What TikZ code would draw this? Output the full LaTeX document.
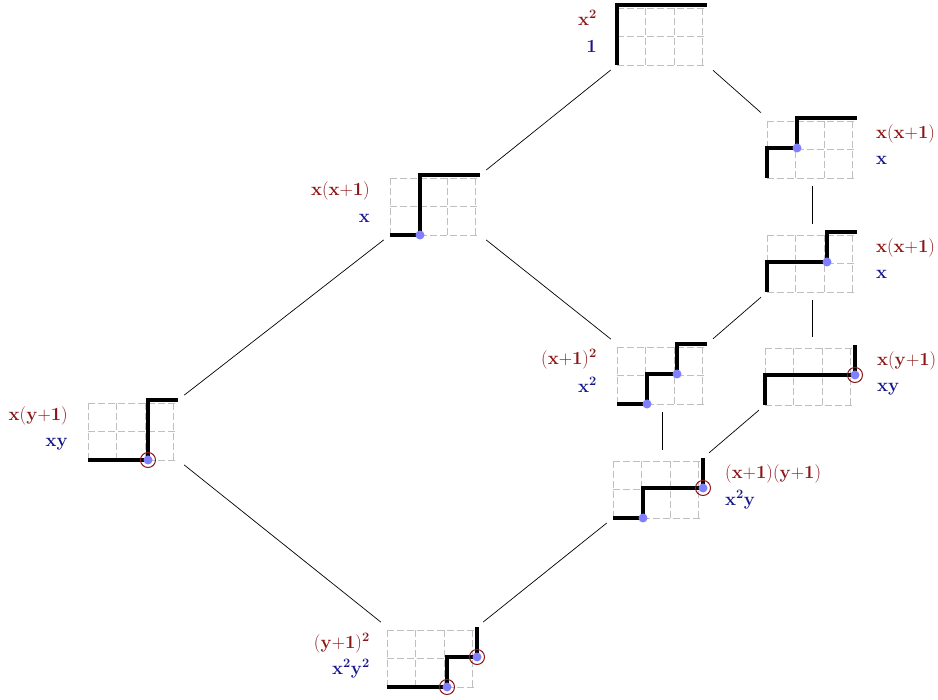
\documentclass[tikz,border=0pt]{standalone}
\usepackage{amsmath}
\definecolor{dred}{RGB}{140,22,22}
\definecolor{dblue}{RGB}{22,22,140}
\definecolor{dotblue}{RGB}{128,128,255}
\tikzset{
  gridbox/.style={rectangle, minimum width=90pt, minimum height=60pt, inner sep=0pt, outer sep=0pt},
  cellgrid/.style={black!25, line width=0.8pt, dash pattern=on 7pt off 3pt},
  lpath/.style={line width=4pt, line join=miter, line cap=butt},
  bdot/.style={fill=dotblue},
  rring/.style={draw=dred, line width=1pt},
  link/.style={line width=0.7pt, shorten <=8pt, shorten >=8pt},
  rlab/.style={text=dred, font=\LARGE, inner sep=0pt, scale=1.07, transform shape},
  blab/.style={text=dblue, font=\LARGE, inner sep=0pt, scale=1.07, transform shape}
}
\newcommand{\latgrid}[2]{%
  \begin{scope}[shift={(#1.south west)}, x=30pt, y=30pt]
    \draw[cellgrid] (0,0) grid (3,2);
    \draw[lpath] #2;
  \end{scope}}
\newcommand{\gdot}[2]{%
  \begin{scope}[shift={(#1.south west)}, x=30pt, y=30pt]
    \fill[bdot] #2 circle (4.5pt);
  \end{scope}}
\newcommand{\gring}[2]{%
  \begin{scope}[shift={(#1.south west)}, x=30pt, y=30pt]
    \fill[bdot] #2 circle (4.5pt);
    \draw[rring] #2 circle (7.5pt);
  \end{scope}}
\begin{document}
\begin{tikzpicture}[x=1pt, y=-1pt]
\useasboundingbox (0,0) rectangle (938,700);
% grid nodes (centers)
\node[gridbox] (g1) at (662,35) {};
\node[gridbox] (g2) at (812,148) {};
\node[gridbox] (g3) at (812,262) {};
\node[gridbox] (g4) at (435,205) {};
\node[gridbox] (g5) at (662,374) {};
\node[gridbox] (g6) at (810,375) {};
\node[gridbox] (g7) at (133,430) {};
\node[gridbox] (g8) at (658,488) {};
\node[gridbox] (g9) at (432,657) {};
% connectors
\draw[link] (g1.south west) -- (g4.north east);
\draw[link] (g1.south east) -- (g2.north west);
\draw[link] (g2.south) -- (g3.north);
\draw[link] (g3.south west) -- (g5.north east);
\draw[link] (g3.south) -- (g3.south |- g6.north);
\draw[link] (g4.south east) -- (g5.north west);
\draw[link] (g4.south west) -- (g7.north east);
\draw[link] (g5.south) -- (g5.south |- g8.north);
\draw[link] (g6.south west) -- (g8.north east);
\draw[link] (g7.south east) -- (g9.north west);
\draw[link] (g8.south west) -- (g9.north east);
% lattice paths
\latgrid{g1}{(0,0)--(0,2)--(3,2)}
\latgrid{g2}{(0,0)--(0,1)--(1,1)--(1,2)--(3,2)}
\gdot{g2}{(1,1)}
\latgrid{g3}{(0,0)--(0,1)--(2,1)--(2,2)--(3,2)}
\gdot{g3}{(2,1)}
\latgrid{g4}{(0,0)--(1,0)--(1,2)--(3,2)}
\gdot{g4}{(1,0)}
\latgrid{g5}{(0,0)--(1,0)--(1,1)--(2,1)--(2,2)--(3,2)}
\gdot{g5}{(1,0)}
\gdot{g5}{(2,1)}
\latgrid{g6}{(0,0)--(0,1)--(3,1)--(3,2)}
\gring{g6}{(3,1)}
\latgrid{g7}{(0,0)--(2,0)--(2,2)--(3,2)}
\gring{g7}{(2,0)}
\latgrid{g8}{(0,0)--(1,0)--(1,1)--(3,1)--(3,2)}
\gdot{g8}{(1,0)}
\gring{g8}{(3,1)}
\latgrid{g9}{(0,0)--(2,0)--(2,1)--(3,1)--(3,2)}
\gring{g9}{(2,0)}
\gring{g9}{(3,1)}
% labels
\node[rlab, anchor=mid east] (r1) at ([shift={(-20,18)}]g1.north west) {$\mathbf{x}^{\mathbf{2}}$};
\node[blab, anchor=mid east] (b1) at ([shift={(-20,45)}]g1.north west) {$\mathbf{1}$};
\node[rlab, anchor=mid west] (r2) at ([shift={(19,18)}]g2.north east) {$\mathbf{x}(\mathbf{x}{+}\mathbf{1})$};
\node[blab, anchor=mid west] (b2) at ([shift={(19,44)}]g2.north east) {$\mathbf{x}$};
\node[rlab, anchor=mid west] (r3) at ([shift={(19,18)}]g3.north east) {$\mathbf{x}(\mathbf{x}{+}\mathbf{1})$};
\node[blab, anchor=mid west] (b3) at ([shift={(19,44)}]g3.north east) {$\mathbf{x}$};
\node[rlab, anchor=mid east] (r4) at ([shift={(-20,18)}]g4.north west) {$\mathbf{x}(\mathbf{x}{+}\mathbf{1})$};
\node[blab, anchor=mid east] (b4) at ([shift={(-20,45)}]g4.north west) {$\mathbf{x}$};
\node[rlab, anchor=mid east] (r5) at ([shift={(-20,18)}]g5.north west) {$(\mathbf{x}{+}\mathbf{1})^{\mathbf{2}}$};
\node[blab, anchor=mid east] (b5) at ([shift={(-20,46)}]g5.north west) {$\mathbf{x}^{\mathbf{2}}$};
\node[rlab, anchor=mid west] (r6) at ([shift={(22,18)}]g6.north east) {$\mathbf{x}(\mathbf{y}{+}\mathbf{1})$};
\node[blab, anchor=mid west] (b6) at ([shift={(22,44)}]g6.north east) {$\mathbf{xy}$};
\node[rlab, anchor=mid east] (r7) at ([shift={(-20,18)}]g7.north west) {$\mathbf{x}(\mathbf{y}{+}\mathbf{1})$};
\node[blab, anchor=mid east] (b7) at ([shift={(-20,44)}]g7.north west) {$\mathbf{xy}$};
\node[rlab, anchor=mid west] (r8) at ([shift={(22,18)}]g8.north east) {$(\mathbf{x}{+}\mathbf{1})(\mathbf{y}{+}\mathbf{1})$};
\node[blab, anchor=mid west] (b8) at ([shift={(22,45)}]g8.north east) {$\mathbf{x}^{\mathbf{2}}\mathbf{y}$};
\node[rlab, anchor=mid east] (r9) at ([shift={(-17,19)}]g9.north west) {$(\mathbf{y}{+}\mathbf{1})^{\mathbf{2}}$};
\node[blab, anchor=mid east] (b9) at ([shift={(-17,45)}]g9.north west) {$\mathbf{x}^{\mathbf{2}}\mathbf{y}^{\mathbf{2}}$};
\end{tikzpicture}
\end{document}
